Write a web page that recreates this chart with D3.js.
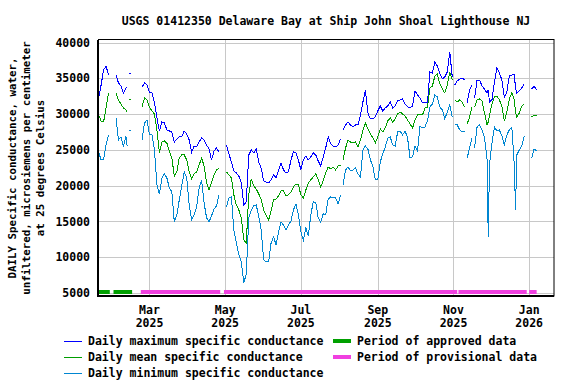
<!DOCTYPE html>
<html>
<head>
<meta charset="utf-8">
<script src="https://cdn.jsdelivr.net/npm/d3@7"></script>
<style>
    body { margin: 0; background: #fff; }
    text { font-family: "DejaVu Sans Mono", monospace; font-weight: bold; font-size: 11.5px; fill: #000; }
</style>
</head>
<body>
<div id="chart"></div>
<script>

// daily values (null = missing day, breaks the line)
let dates = [
    "2025-01-19","2025-01-21","2025-01-23","2025-01-25","2025-01-27","2025-01-29","2025-01-31",
    "2025-02-02","2025-02-04","2025-02-06","2025-02-08","2025-02-10","2025-02-11","2025-02-12","2025-02-13","2025-02-15",
    "2025-02-23","2025-02-25","2025-02-27",
    "2025-03-01","2025-03-03","2025-03-05","2025-03-07","2025-03-09","2025-03-11","2025-03-13","2025-03-15",
    "2025-03-17","2025-03-19","2025-03-21","2025-03-23","2025-03-25","2025-03-27","2025-03-29","2025-03-31",
    "2025-04-02","2025-04-04","2025-04-06","2025-04-08","2025-04-10","2025-04-12","2025-04-14","2025-04-16",
    "2025-04-18","2025-04-20","2025-04-22","2025-04-24","2025-04-26","2025-04-28","2025-04-30",
    "2025-05-02","2025-05-04","2025-05-06","2025-05-08","2025-05-10","2025-05-12","2025-05-14","2025-05-16",
    "2025-05-18","2025-05-20","2025-05-22","2025-05-24","2025-05-26","2025-05-28","2025-05-30",
    "2025-06-01","2025-06-03","2025-06-05","2025-06-07","2025-06-09","2025-06-11","2025-06-13","2025-06-15",
    "2025-06-17","2025-06-19","2025-06-21","2025-06-23","2025-06-25","2025-06-27","2025-06-29",
    "2025-07-01","2025-07-03","2025-07-05","2025-07-07","2025-07-09","2025-07-11","2025-07-13","2025-07-15",
    "2025-07-17","2025-07-19","2025-07-21","2025-07-23","2025-07-25","2025-07-27","2025-07-29","2025-07-31",
    "2025-08-02","2025-08-03","2025-08-04","2025-08-06","2025-08-08","2025-08-10","2025-08-12","2025-08-14",
    "2025-08-16","2025-08-18","2025-08-20","2025-08-22","2025-08-24","2025-08-26","2025-08-28","2025-08-30",
    "2025-09-01","2025-09-03","2025-09-05","2025-09-07","2025-09-09","2025-09-11","2025-09-13","2025-09-15",
    "2025-09-17","2025-09-19","2025-09-21","2025-09-23","2025-09-25","2025-09-27","2025-09-29",
    "2025-10-01","2025-10-03","2025-10-05","2025-10-07","2025-10-09","2025-10-11","2025-10-13","2025-10-15",
    "2025-10-17","2025-10-19","2025-10-21","2025-10-23","2025-10-25","2025-10-27","2025-10-29","2025-10-31",
    "2025-11-01","2025-11-02","2025-11-04","2025-11-06","2025-11-08","2025-11-10","2025-11-11","2025-11-12",
    "2025-11-14","2025-11-16","2025-11-17","2025-11-18","2025-11-20","2025-11-22","2025-11-24","2025-11-26",
    "2025-11-28","2025-11-29","2025-11-30",
    "2025-12-02","2025-12-04","2025-12-06","2025-12-08","2025-12-10","2025-12-12","2025-12-14","2025-12-16",
    "2025-12-18","2025-12-20","2025-12-21","2025-12-22","2025-12-24","2025-12-26","2025-12-28","2025-12-30",
    "2026-01-01","2026-01-03","2026-01-05","2026-01-07"
];

let maxVals = [
    32250,34060,36160,36720,35460,null,null,
    35460,34345,33925,32950,33645,33785,null,35600,null,
    33785,34345,34060,
    32950,32950,31550,29455,27640,28900,28760,27780,
    27640,27500,26100,26520,26800,26800,27640,27220,
    26380,24710,25545,25400,26100,26660,26380,25685,
    25125,23590,24850,25265,24710,null,null,
    25685,24430,23310,22050,21775,21355,20380,17305,
    17725,24290,24990,24570,25125,23310,22470,
    20660,20520,20380,20800,21500,21080,22190,23170,
    22190,21775,21915,23590,24710,24570,23590,
    22190,23590,24150,23590,24010,24570,24290,23450,
    22750,24010,25265,26800,25825,25545,25400,25685,
    26520,null,27780,28480,28900,28480,28200,28480,
    28480,29875,31690,33365,30150,29315,29315,29595,
    30430,31130,30430,30850,31130,31690,30850,31130,
    31830,31970,32110,31410,30990,30850,31130,
    33225,32670,32250,31550,31690,31550,35880,35740,
    37275,36720,35600,34900,35180,35880,38670,35180,
    null,34060,34625,34900,35040,34760,null,31550,
    33365,34060,null,32250,34760,34760,33925,33505,
    32950,33365,31690,
    31970,34480,36440,35740,34760,32390,33090,35320,
    35460,35460,33645,32950,33225,33645,34200,null,
    null,33505,33925,33365
];

let meanVals = [
    29875,29040,28900,30850,32950,null,null,
    32950,31970,31410,30850,30570,30300,null,31970,null,
    30990,32250,31970,
    30990,30430,30015,27780,24570,26100,26240,25960,
    24850,23870,21355,21915,23870,24290,24290,23590,
    21915,20935,21635,21915,22890,23870,22750,20380,
    19400,20380,21500,22190,22470,null,null,
    21915,21500,21080,18700,17305,16605,15490,12415,
    11995,18700,20935,19960,19540,18840,18140,
    16605,15910,15210,16470,18000,18140,18560,19260,
    19260,18560,18700,19120,19820,20240,20100,
    18700,18285,19400,20380,20800,21215,21635,20800,
    19820,20660,21775,22610,22330,22610,22190,22750,
    22750,null,23590,25265,26380,26100,25960,26100,
    25400,26380,27780,28760,27920,27220,26660,25960,
    26800,27920,27500,28060,29040,29455,28900,29315,
    30010,30290,30010,29735,29175,28620,28060,
    29175,29875,29875,29875,30850,30850,33650,33925,
    35320,35600,34200,33505,32950,34060,35880,34760,
    null,31970,31690,31970,31690,30990,null,28620,
    29595,30990,null,30990,31970,32110,31830,30150,
    28480,28900,29875,
    31410,32390,32530,31970,31130,29040,30290,32110,
    32950,31970,30290,29595,30150,31130,31410,null,
    null,29595,29875,29735
];

let minVals = [
    24700,23590,23590,25685,27080,null,null,
    29455,26380,26800,25400,26940,25545,null,27640,null,
    26380,28760,29175,
    27080,27080,24990,20100,18840,21080,21635,21080,
    19680,19120,14930,15910,18000,19960,21915,21080,
    17305,15210,15910,17030,19680,20800,17585,15490,
    14930,15770,16745,17165,18700,null,null,
    17030,18285,18420,13810,12000,10320,9345,6410,
    7670,15490,16605,17165,17305,15770,13810,
    9625,9345,9345,12000,12835,11720,13530,14930,
    14510,13810,14510,15070,16605,17445,15910,
    13530,12415,14090,12975,15910,17725,17585,15490,
    14930,16050,15910,18140,18420,18285,18285,17445,
    18700,null,20100,22190,22610,22050,22190,22470,
    21635,21215,24990,25545,25125,23590,22750,20800,
    20800,23310,24430,25400,26660,26800,25685,25545,
    27500,27640,27080,27640,26660,23870,24010,
    25545,24850,28340,28060,28200,29040,30990,31410,
    32670,32390,30990,30575,29315,30290,31270,29595,
    null,28480,28480,27780,27500,27500,null,23870,
    25265,26660,null,25265,28200,28480,27780,26660,
    23870,12835,22890,
    25965,28200,27640,27780,26940,25685,27080,27780,
    28200,22890,16605,24290,24990,25545,26940,null,
    null,23870,25125,24850
];

// data-quality periods shown as bars along the bottom
let approvedPeriods = [["2025-01-18", "2025-01-28"], ["2025-01-31", "2025-02-15"]];
let provisionalPeriods = [["2025-02-22", "2025-04-27"], ["2025-04-30", "2025-11-04"],
                          ["2025-11-05", "2025-12-30"], ["2026-01-01", "2026-01-07"]];

let xTicks = ["2025-03-01", "2025-05-01", "2025-07-01", "2025-09-01", "2025-11-01", "2026-01-01"];
let yTicks = [5000, 10000, 15000, 20000, 25000, 30000, 35000, 40000];

let titleText = "USGS 01412350 Delaware Bay at Ship John Shoal Lighthouse NJ";
let yTitle = ["DAILY Specific conductance, water,",
              "unfiltered, microsiemens per centimeter",
              "at 25 degrees Celsius"];

let series = [
    {name: "Daily maximum specific conductance", values: maxVals, color: "#0000ff"},
    {name: "Daily mean specific conductance", values: meanVals, color: "#009e00"},
    {name: "Daily minimum specific conductance", values: minVals, color: "#0086d1"}
];
let periods = [
    {name: "Period of approved data", ranges: approvedPeriods, color: "#00a000"},
    {name: "Period of provisional data", ranges: provisionalPeriods, color: "#f040e0"}
];


let parseDate = d3.timeParse("%Y-%m-%d");

let margin = {top: 40, right: 22, bottom: 88, left: 98};
let width = 576 - margin.left - margin.right;
let height = 384 - margin.top - margin.bottom;

let svg = d3.select("#chart").append("svg")
    .attr("width", 576)
    .attr("height", 384);

let g = svg.append("g")
    .attr("transform", "translate(" + margin.left + "," + margin.top + ")");

// Scales
let x = d3.scaleTime()
    .domain([new Date(2025, 0, 18, 12), new Date(2026, 0, 21)])
    .range([0, width]);

let y = d3.scaleLinear()
    .domain([4580, 40350])
    .range([height, 0]);

// Grid
g.append("g")
    .selectAll("line.vgrid")
    .data(xTicks)
    .enter().append("line")
    .attr("x1", d => Math.round(x(parseDate(d))) + 0.5)
    .attr("x2", d => Math.round(x(parseDate(d))) + 0.5)
    .attr("y1", 0)
    .attr("y2", height)
    .attr("stroke", "#c8c8c8");

g.append("g")
    .selectAll("line.hgrid")
    .data(yTicks)
    .enter().append("line")
    .attr("x1", 0)
    .attr("x2", width)
    .attr("y1", d => Math.round(y(d)) + 0.5)
    .attr("y2", d => Math.round(y(d)) + 0.5)
    .attr("stroke", "#c8c8c8");

// Period bars
periods.forEach(p => {
    g.selectAll(null)
        .data(p.ranges)
        .enter().append("rect")
        .attr("x", d => x(parseDate(d[0])))
        .attr("width", d => x(parseDate(d[1])) - x(parseDate(d[0])))
        .attr("y", Math.round(y(5000)) - 3)
        .attr("height", 4)
        .attr("fill", p.color);
});

// Lines
let line = d3.line()
    .defined(d => d.v !== null)
    .x(d => x(d.date))
    .y(d => y(d.v));

series.forEach(s => {
    let rows = dates.map((d, i) => ({date: parseDate(d), v: s.values[i]}));

    g.append("path")
        .datum(rows)
        .attr("d", line)
        .attr("fill", "none")
        .attr("stroke", s.color)
        .attr("stroke-width", 1)
        .attr("shape-rendering", "crispEdges");

    // lone days between gaps get a tiny dash so they stay visible
    let lone = rows.filter((r, i) => r.v !== null &&
        (i === 0 || rows[i - 1].v === null) &&
        (i === rows.length - 1 || rows[i + 1].v === null));

    g.selectAll(null)
        .data(lone)
        .enter().append("line")
        .attr("x1", d => x(d.date) - 1)
        .attr("x2", d => x(d.date) + 1)
        .attr("y1", d => y(d.v))
        .attr("y2", d => y(d.v))
        .attr("stroke", s.color)
        .attr("shape-rendering", "crispEdges");
});

// Frame
g.append("rect")
    .attr("x", 0.5)
    .attr("y", -0.5)
    .attr("width", width - 0.5)
    .attr("height", height + 0.5)
    .attr("fill", "none")
    .attr("stroke", "#000");

g.append("path")
    .attr("d", "M0,0V" + height + "H" + width)
    .attr("fill", "none")
    .attr("stroke", "#000")
    .attr("stroke-width", 2);

// Y tick labels
g.selectAll("text.ytick")
    .data(yTicks)
    .enter().append("text")
    .attr("x", -8)
    .attr("y", d => y(d))
    .attr("dy", "0.36em")
    .attr("text-anchor", "end")
    .text(d => d);

// X tick labels, month on top of year
let xLab = g.selectAll("text.xtick")
    .data(xTicks)
    .enter().append("text")
    .attr("text-anchor", "middle")
    .attr("transform", d => "translate(" + x(parseDate(d)) + "," + (height + 18) + ")");
xLab.append("tspan")
    .attr("x", 0)
    .text(d => d3.timeFormat("%b")(parseDate(d)));
xLab.append("tspan")
    .attr("x", 0)
    .attr("dy", 13)
    .text(d => d3.timeFormat("%Y")(parseDate(d)));

// Title
svg.append("text")
    .attr("x", margin.left + width / 2)
    .attr("y", 25)
    .attr("text-anchor", "middle")
    .text(titleText);

// Y axis title
svg.append("g")
    .attr("transform", "translate(0," + (margin.top + height / 2) + ") rotate(-90)")
    .selectAll("text")
    .data(yTitle)
    .enter().append("text")
    .attr("x", 0)
    .attr("y", (d, i) => 16 + i * 14)
    .attr("text-anchor", "middle")
    .style("font-size", "10.8px")
    .text(d => d);

// Legend
let legend = svg.append("g");

series.forEach((s, i) => {
    let ly = 341 + i * 16;
    legend.append("rect")
        .attr("x", 64).attr("width", 18)
        .attr("y", ly).attr("height", 1)
        .attr("fill", s.color)
        .attr("shape-rendering", "crispEdges");
    legend.append("text")
        .attr("x", 88)
        .attr("y", ly + 4)
        .text(s.name);
});

periods.forEach((p, i) => {
    let ly = 341 + i * 16;
    legend.append("rect")
        .attr("x", 333).attr("width", 18)
        .attr("y", ly - 2).attr("height", 4)
        .attr("fill", p.color);
    legend.append("text")
        .attr("x", 357)
        .attr("y", ly + 4)
        .text(p.name);
});

</script>
</body>
</html>
